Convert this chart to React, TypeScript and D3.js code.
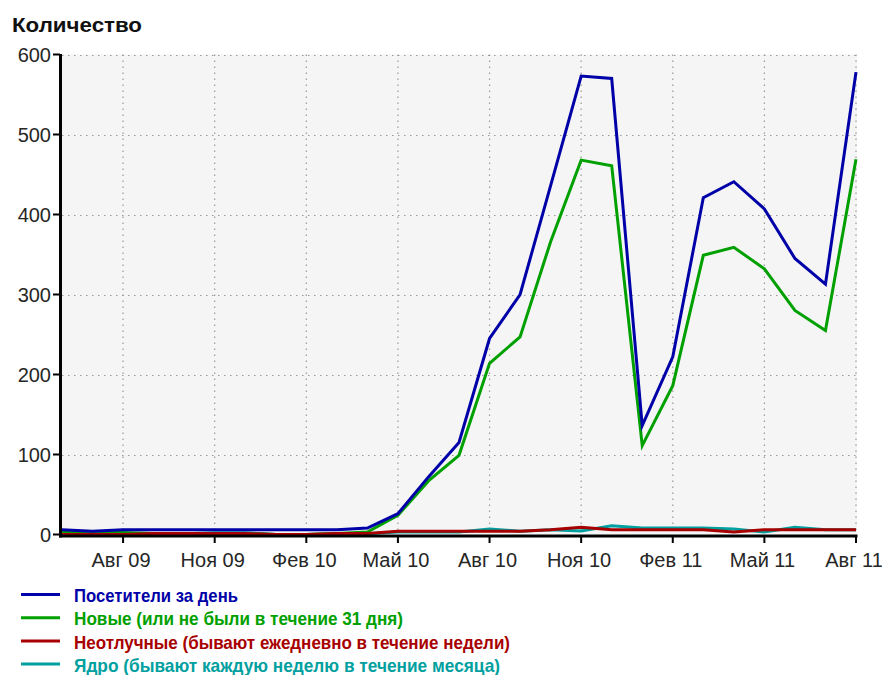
import React from "react";
import * as d3 from "d3";

// Monthly points, June 2009 .. August 2011
const months = [
  "2009-06", "2009-07", "2009-08", "2009-09", "2009-10", "2009-11", "2009-12",
  "2010-01", "2010-02", "2010-03", "2010-04", "2010-05", "2010-06", "2010-07",
  "2010-08", "2010-09", "2010-10", "2010-11", "2010-12", "2011-01", "2011-02",
  "2011-03", "2011-04", "2011-05", "2011-06", "2011-07", "2011-08",
];

const visitors = [6, 4, 6, 6, 6, 6, 6, 6, 6, 6, 8, 26, 72, 115, 245, 300, 436, 573, 570, 136, 222, 421, 441, 407, 345, 313, 578];
const newVisitors = [2.5, 2.5, 2.5, 1.2, 1.2, 1.2, 1.2, 0, 0, 1.2, 3, 24, 67, 99, 214, 247, 366, 468, 461, 111, 186, 349, 359, 332, 280, 255, 469];
const loyal = [0, 0, 0, 1.2, 1.2, 1.2, 1.2, 0, 0, 1.2, 1.2, 4, 4, 4, 4, 4, 6, 9, 6, 6, 6, 6, 3, 6, 6, 6, 6];
const core = [0, 0, 0, 1, 1, 2.2, 2.2, 0, 0, 1, 1, 3, 3, 3, 7, 4, 6, 4.5, 11, 8, 8, 8, 7, 3, 9, 6, 6];

const yTicks = [0, 100, 200, 300, 400, 500, 600];
const xTickMonths = ["2009-08", "2009-11", "2010-02", "2010-05", "2010-08", "2010-11", "2011-02", "2011-05", "2011-08"];
const xTickLabels = ["Авг 09", "Ноя 09", "Фев 10", "Май 10", "Авг 10", "Ноя 10", "Фев 11", "Май 11", "Авг 11"];

const seriesNames = [
  "Посетители за день",
  "Новые (или не были в течение 31 дня)",
  "Неотлучные (бывают ежедневно в течение недели)",
  "Ядро (бывают каждую неделю в течение месяца)",
];
const seriesData = [visitors, newVisitors, loyal, core];
const seriesColors = ["#0000a8", "#00a000", "#a80000", "#00a0a0"];
const legendWidths = [164, 329, 436, 426];
const drawOrder = [3, 1, 2, 0];

const yTitle = "Количество";

export default function App() {
  const W = 882;
  const H = 675;
  const x = d3.scaleLinear().domain([0, months.length - 1]).range([62, 856]);
  const y = d3.scaleLinear().domain([0, 600]).range([534.5, 54.5]);
  const line = d3
    .line<number>()
    .x((_, i) => x(i))
    .y((d) => y(d));

  const font = "'Liberation Sans', Arial, sans-serif";
  const textColor = "#262626";

  return (
    <svg
      width={W}
      height={H}
      viewBox={`0 0 ${W} ${H}`}
      style={{ position: "absolute", left: 0, top: 0, background: "#fff" }}
    >
      <rect x={62} y={54.5} width={795} height={480} fill="#f5f5f5" />

      {/* grid */}
      {yTicks.filter((t) => t > 0).map((t) => (
        <line
          key={"gy" + t}
          x1={62}
          x2={857}
          y1={Math.round(y(t)) + 0.5}
          y2={Math.round(y(t)) + 0.5}
          stroke="#999"
          strokeWidth={1.2}
          strokeDasharray="1.5 4.5"
        />
      ))}
      {xTickMonths.map((m) => {
        const xi = x(months.indexOf(m));
        return (
          <line
            key={"gx" + m}
            x1={xi}
            x2={xi}
            y1={54.5}
            y2={534}
            stroke="#999"
            strokeWidth={1.2}
            strokeDasharray="1.5 4.5"
          />
        );
      })}

      {/* series */}
      {drawOrder.map((k) => (
        <path
          key={"s" + k}
          d={line(seriesData[k]) || ""}
          fill="none"
          stroke={seriesColors[k]}
          strokeWidth={3}
          strokeLinejoin="miter"
        />
      ))}

      {/* axes */}
      <line x1={60.5} x2={60.5} y1={54} y2={537.5} stroke="#000" strokeWidth={3} />
      <line x1={59} x2={857.5} y1={536} y2={536} stroke="#000" strokeWidth={3} />

      {yTicks.map((t) => (
        <g key={"yt" + t}>
          <line x1={53} x2={60} y1={y(t)} y2={y(t)} stroke="#000" strokeWidth={2} />
          <text
            x={51}
            y={y(t) + 7.5}
            textAnchor="end"
            fontFamily={font}
            fontSize={20}
            fill={textColor}
          >
            {t}
          </text>
        </g>
      ))}

      {xTickMonths.map((m, i) => {
        const xi = x(months.indexOf(m));
        return (
          <g key={"xt" + m}>
            <line x1={xi} x2={xi} y1={537} y2={543} stroke="#000" strokeWidth={2} />
            <text
              x={xi - 2}
              y={567}
              textAnchor="middle"
              fontFamily={font}
              fontSize={20}
              fill={textColor}
            >
              {xTickLabels[i]}
            </text>
          </g>
        );
      })}

      {/* title */}
      <text
        x={12}
        y={31.5}
        fontFamily={font}
        fontWeight="bold"
        fontSize={21}
        fill="#111"
        textLength={130}
        lengthAdjust="spacingAndGlyphs"
      >
        {yTitle}
      </text>

      {/* legend */}
      {seriesNames.map((name, i) => {
        const cy = 594.5 + i * 23.2;
        return (
          <g key={"lg" + i}>
            <line x1={21} x2={60} y1={cy} y2={cy} stroke={seriesColors[i]} strokeWidth={3} />
            <text
              x={74}
              y={cy + 7.6}
              fontFamily={font}
              fontWeight="bold"
              fontSize={18.5}
              fill={seriesColors[i]}
              textLength={legendWidths[i]}
              lengthAdjust="spacingAndGlyphs"
            >
              {name}
            </text>
          </g>
        );
      })}
    </svg>
  );
}
